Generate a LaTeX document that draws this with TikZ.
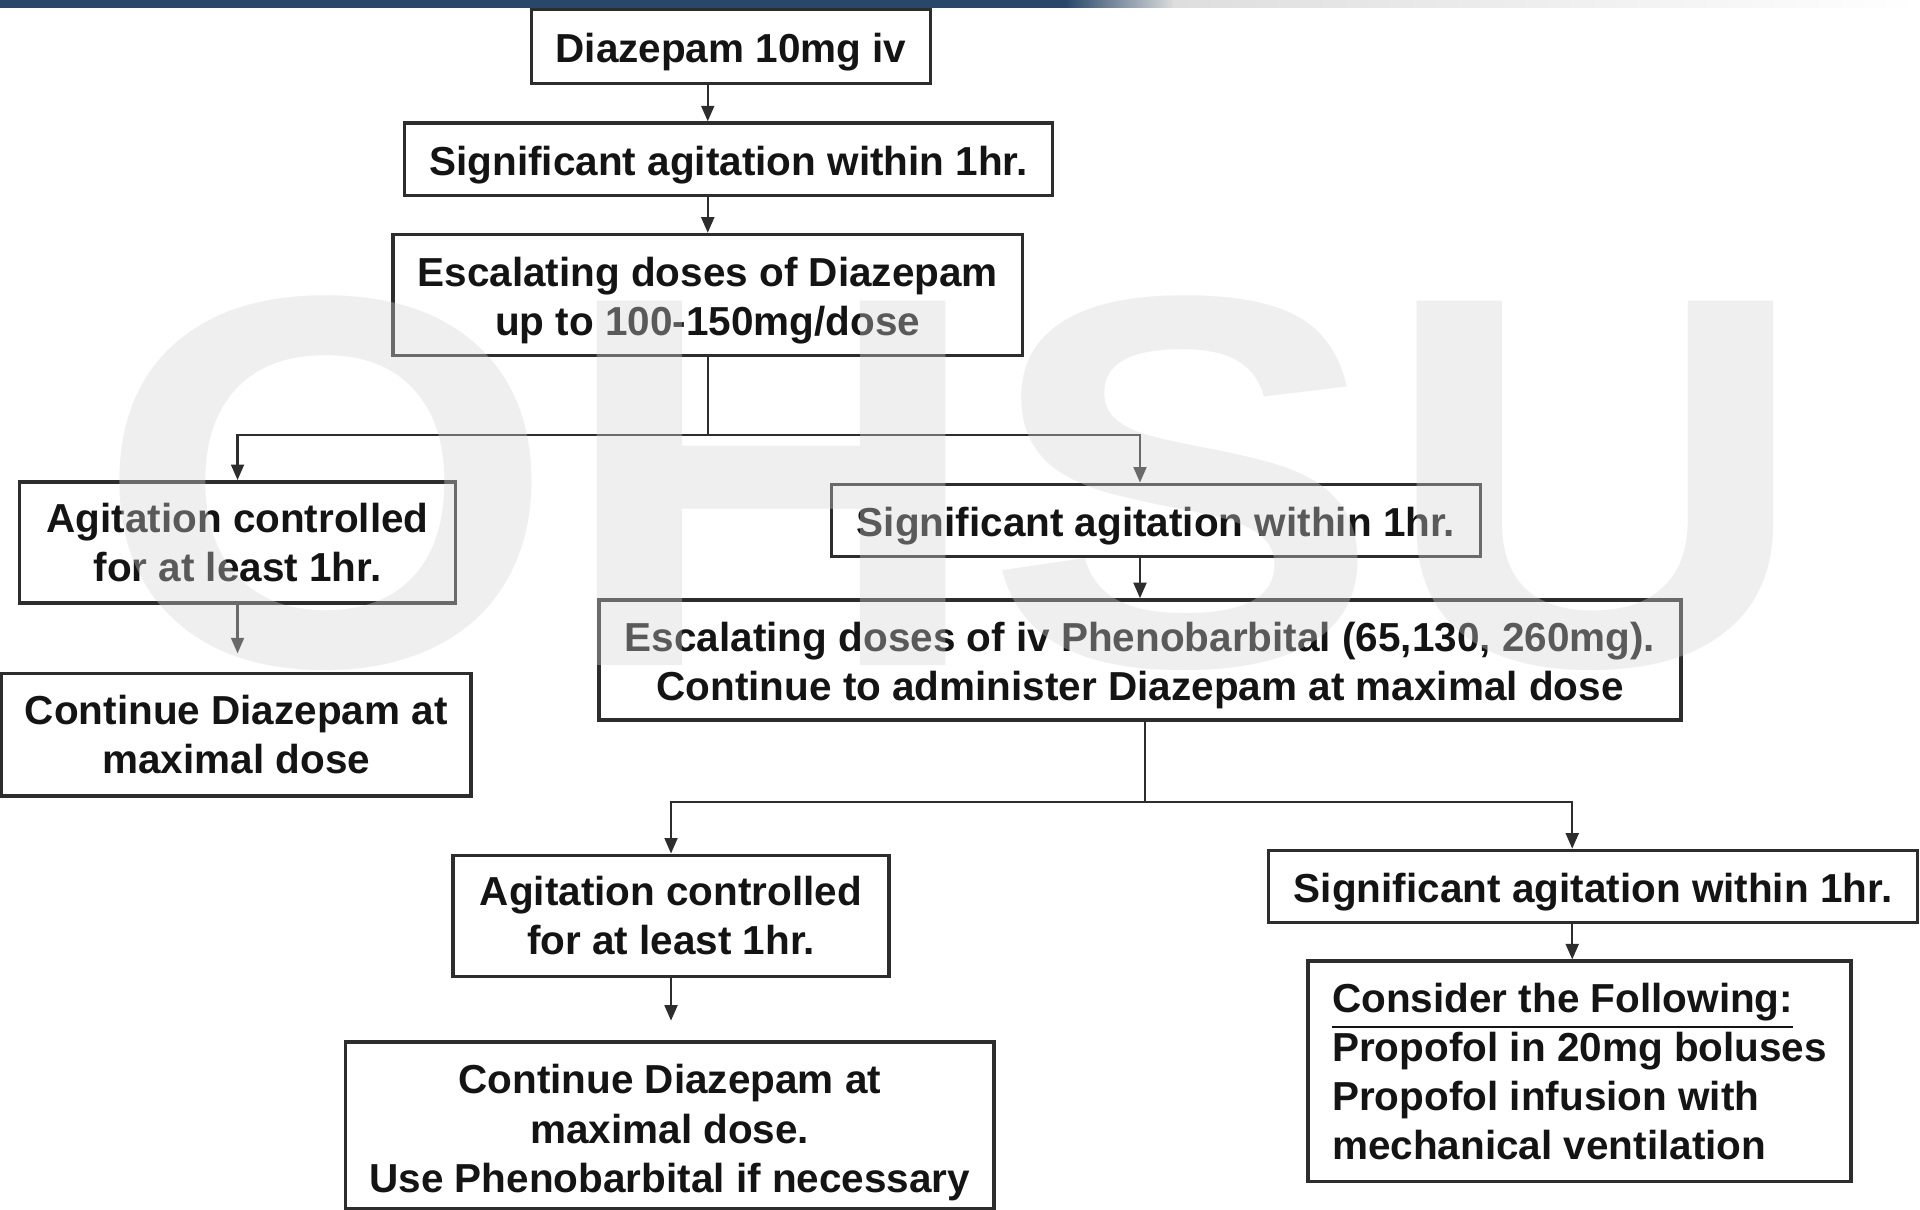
\documentclass[tikz,border=0pt]{standalone}
\usepackage{fontspec}
\setmainfont{Liberation Sans}
\usepackage{tikz}
\usetikzlibrary{arrows.meta}
\definecolor{barBlue}{RGB}{41, 71, 107}
\definecolor{boxLine}{RGB}{45, 45, 45}
\definecolor{boxText}{RGB}{20, 20, 20}
\newcommand{\lowtext}{\rule{0pt}{9.4pt}}

\begin{document}
\begin{tikzpicture}[x=0.01cm, y=-0.01cm,
    flowbox/.style={draw=boxLine, line width=0.8pt, align=center, inner sep=0pt,
      text=boxText, font=\bfseries\fontsize{9.4}{11.4}\selectfont},
    link/.style={draw=boxLine, line width=0.5pt, -{Triangle[length=3.6pt, width=3pt]}},
    trunk/.style={draw=boxLine, line width=0.5pt}]
        \useasboundingbox (0,0) rectangle (1568,988);
        % top banner
        \fill[barBlue] (0,0) rectangle (872,6.5);
        \shade[left color=barBlue, right color=black!13] (870,0) rectangle (960,6.5);
        \shade[left color=black!13, right color=white] (958,0) rectangle (1568,6.5);

        \node[flowbox, minimum width=3.26cm, minimum height=0.60cm] (dzp) at (597,38) {\lowtext Diazepam 10mg iv};
        \node[flowbox, minimum width=5.29cm, minimum height=0.59cm] (sigA) at (595,130) {\lowtext Significant agitation within 1hr.};
        \node[flowbox, minimum width=5.14cm, minimum height=0.99cm] (escA) at (578,241) {\lowtext Escalating doses of Diazepam\\up to 100-150mg/dose};
        \node[flowbox, minimum width=3.56cm, minimum height=0.99cm] (ctrlA) at (194,443) {Agitation controlled\\for at least 1hr.};
        \node[flowbox, minimum width=5.30cm, minimum height=0.59cm] (sigB) at (944,425) {\lowtext Significant agitation within 1hr.};
        \node[flowbox, minimum width=3.83cm, minimum height=1.00cm] (contA) at (193,600) {Continue Diazepam at\\maximal dose};
        \node[flowbox, minimum width=8.83cm, minimum height=0.98cm] (escB) at (931,539) {\lowtext Escalating doses of iv Phenobarbital (65,130, 260mg).\\Continue to administer Diazepam at maximal dose};
        \node[flowbox, minimum width=3.56cm, minimum height=0.99cm] (ctrlB) at (548,748) {Agitation controlled\\for at least 1hr.};
        \node[flowbox, minimum width=5.30cm, minimum height=0.59cm] (sigC) at (1301,724) {\lowtext Significant agitation within 1hr.};
        \node[flowbox, minimum width=5.29cm, minimum height=1.36cm] (contB) at (547,919) {\rule{0pt}{10.2pt}Continue Diazepam at\\maximal dose.\\Use Phenobarbital if necessary};
        \node[flowbox, align=left, minimum width=4.43cm, minimum height=1.80cm] (propo) at (1290,875) {\underline{Consider the Following:}\\Propofol in 20mg boluses\\Propofol infusion with\\mechanical ventilation};

        % connectors
        \coordinate (spine) at (578,0);
        \coordinate (forkA) at (578,355);
        \coordinate (dropB) at (931,355);
        \coordinate (forkB) at (935,655);
        \coordinate (dropC) at (1284,655);
        \draw[link] (dzp.south -| spine) -- (sigA.north -| spine);
        \draw[link] (sigA.south -| spine) -- (escA.north -| spine);
        \draw[trunk] (escA.south -| forkA) -- (forkA);
        \draw[link] (forkA) -| (ctrlA.north);
        \draw[link] (forkA) -- (dropB) -- (dropB |- sigB.north);
        \draw[link, shorten >=0.15cm] (ctrlA.south) -- (ctrlA.south |- contA.north);
        \draw[link] (sigB.south -| dropB) -- (escB.north -| dropB);
        \draw[trunk] (escB.south -| forkB) -- (forkB);
        \draw[link] (forkB) -| (ctrlB.north);
        \draw[link] (forkB) -- (dropC) -- (dropC |- sigC.north);
        \draw[link, shorten >=0.16cm] (ctrlB.south) -- (ctrlB.south |- contB.north);
        \draw[link] (sigC.south -| dropC) -- (propo.north -| dropC);

        % watermark
        \node[text=black!17, text opacity=0.37, xscale=1.12, inner sep=0pt,
          font=\bfseries\fontsize{123}{123}\selectfont] (mark) at (778,395) {OHSU};
      \end{tikzpicture}
\end{document}
